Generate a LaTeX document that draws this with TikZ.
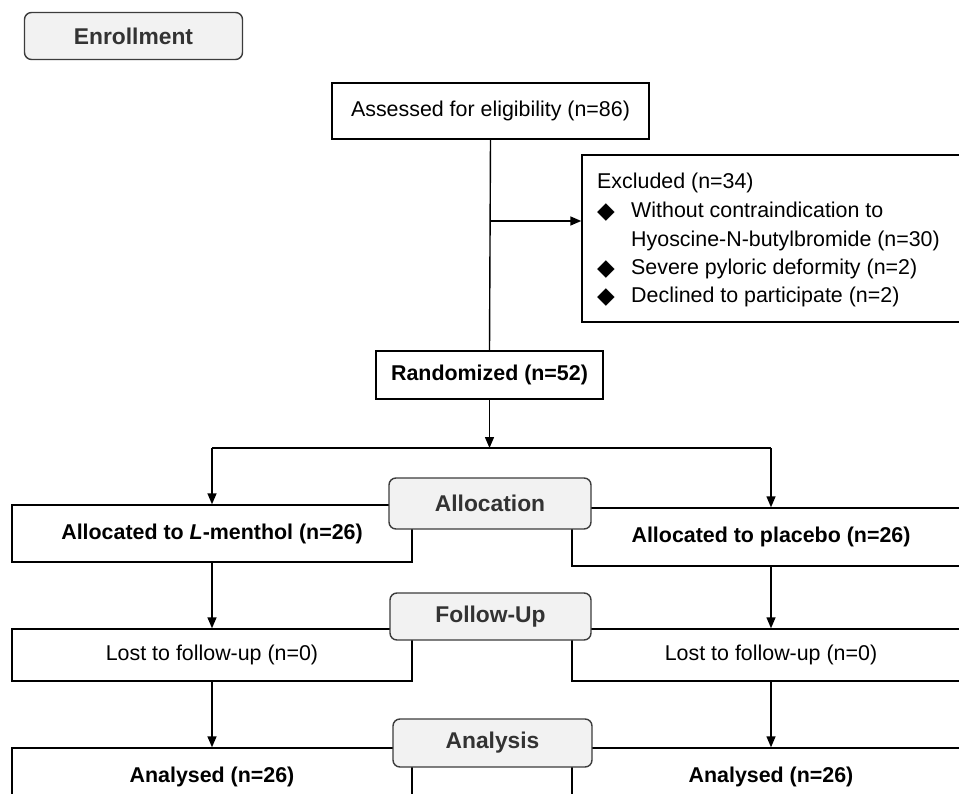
\documentclass[tikz,border=0pt]{standalone}
\usepackage{fontspec}
\setmainfont{Liberation Sans}
\newfontfamily\dvsans{DejaVu Sans}
\usetikzlibrary{arrows.meta}
\definecolor{lblfill}{HTML}{F2F2F2}
\definecolor{lbldraw}{HTML}{3C3C3C}
\definecolor{lbltext}{HTML}{333333}
\begin{document}
\begin{tikzpicture}[x=1pt,y=-1pt,
  box/.style={draw=black, line width=1.4pt, fill=white, inner sep=0pt, font=\fontsize{21.4}{25}\selectfont},
  boldbox/.style={box, font=\fontsize{21.4}{25}\selectfont\bfseries},
  lbl/.style={draw=lbldraw, line width=1.4pt, fill=lblfill, rounded corners=7pt, inner sep=0pt, text=lbltext, font=\fontsize{22.8}{26}\selectfont\bfseries},
  conn/.style={line width=1.4pt},
  arr/.style={conn, -{Triangle[length=11pt,width=9pt]}},
  txt/.style={inner sep=0pt, anchor=base west, font=\fontsize{21.4}{25}\selectfont},
  bul/.style={inner sep=0pt, anchor=base west, font=\dvsans\fontsize{23}{26}\selectfont}
]
\useasboundingbox (0,0) rectangle (959,794);
\clip (0,0) rectangle (959,794);
\fill[white] (0,0) rectangle (959,794);

% enrollment
\node[lbl, minimum width=218pt, minimum height=47pt] (enr) at (133.5,36) {Enrollment};
\node[box, minimum width=317pt, minimum height=56pt] (assess) at (490.5,111) {Assessed for eligibility (n=86)};

% excluded
\node[box, minimum width=400pt, minimum height=167pt] (excl) at (782,238.5) {};
\node[txt] (ex0) at (597,189) {Excluded (n=34)};
\node[bul] (b1) at (597,219) {◆};
\node[txt] (ex1) at (631,218) {Without contraindication to};
\node[txt] (ex2) at (631,247) {Hyoscine-N-butylbromide (n=30)};
\node[bul] (b2) at (597,276) {◆};
\node[txt] (ex3) at (631,275) {Severe pyloric deformity (n=2)};
\node[bul] (b3) at (597,304) {◆};
\node[txt] (ex4) at (631,303) {Declined to participate (n=2)};

\node[boldbox, minimum width=227pt, minimum height=48pt] (rand) at (489.5,375) {Randomized (n=52)};

% rows
\node[boldbox, minimum width=400pt, minimum height=57pt] (a1) at (212,533.5) {Allocated to \textit{L}-menthol (n=26)};
\node[boldbox, minimum width=398pt, minimum height=58pt] (a2) at (771,537) {Allocated to placebo (n=26)};
\node[box, minimum width=400pt, minimum height=52pt] (f1) at (212,655) {Lost to follow-up (n=0)};
\node[box, minimum width=398pt, minimum height=52pt] (f2) at (771,655) {Lost to follow-up (n=0)};
\node[boldbox, minimum width=400pt, minimum height=57pt] (n1) at (212,776.5) {Analysed (n=26)};
\node[boldbox, minimum width=398pt, minimum height=57pt] (n2) at (771,776.5) {Analysed (n=26)};

% stage labels
\node[lbl, minimum width=202pt, minimum height=51pt] (lalloc) at (490,503.5) {Allocation};
\node[lbl, minimum width=201pt, minimum height=47pt] (lfol) at (490.5,616.5) {Follow-Up};
\node[lbl, minimum width=199pt, minimum height=48pt] (lana) at (492.5,743) {Analysis};

% connectors
\draw[conn] (assess.south) -- (rand.north);
\coordinate (j1) at (assess.south |- 0,221);
\draw[arr] (j1) -- (j1 -| excl.west);
\coordinate (split) at (rand.south |- 0,448);
\draw[arr] (rand.south) -- (split);
\coordinate (sl) at (212,448);
\coordinate (sr) at (771,448);
\draw[conn] (sl) -- (sr);
\draw[arr] (sl) -- (a1.north);
\draw[arr] (sr) -- (a2.north);
\draw[arr] (a1.south) -- (f1.north);
\draw[arr] (a2.south) -- (f2.north);
\draw[arr] (f1.south) -- (n1.north);
\draw[arr] (f2.south) -- (n2.north);
\end{tikzpicture}
\end{document}
